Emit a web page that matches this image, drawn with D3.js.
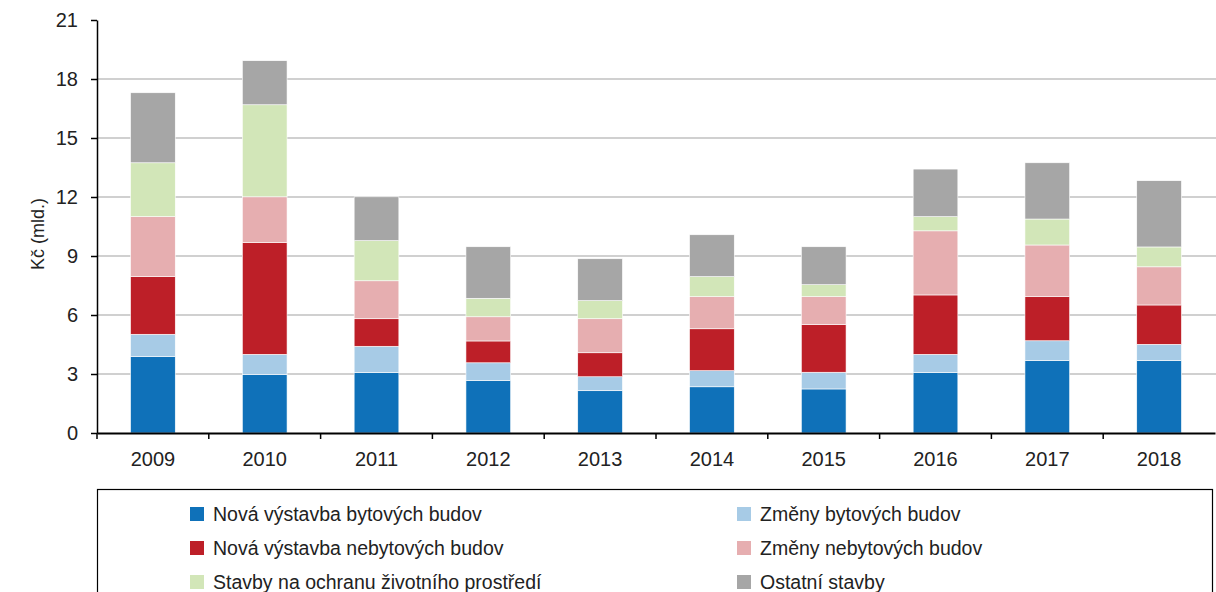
<!DOCTYPE html>
<html>
<head>
<meta charset="utf-8">
<script src="https://cdn.jsdelivr.net/npm/d3@7"></script>
<style>
  body { margin: 0; background: #fff; }
  text { font-family: "Liberation Sans", Arial, sans-serif; }
</style>
</head>
<body>
<script>
// stacked construction values, bn CZK
var years = ["2009","2010","2011","2012","2013","2014","2015","2016","2017","2018"];
var series = ["Nová výstavba bytových budov","Změny bytových budov","Nová výstavba nebytových budov",
              "Změny nebytových budov","Stavby na ochranu životního prostředí","Ostatní stavby"];
var novaByt   = [3.88, 2.98, 3.07, 2.66, 2.15, 2.35, 2.24, 3.07, 3.68, 3.68];
var zmenyByt  = [1.14, 1.02, 1.34, 0.91, 0.71, 0.82, 0.85, 0.93, 1.01, 0.83];
var novaNeb   = [2.93, 5.68, 1.40, 1.11, 1.22, 2.13, 2.42, 3.02, 2.24, 2.00];
var zmenyNeb  = [3.05, 2.33, 1.93, 1.23, 1.73, 1.63, 1.42, 3.26, 2.63, 1.94];
var zivProst  = [2.74, 4.68, 2.04, 0.94, 0.92, 1.02, 0.61, 0.72, 1.32, 1.01];
var ostatni   = [3.56, 2.24, 2.23, 2.62, 2.13, 2.13, 1.93, 2.42, 2.86, 3.37];
var yTicks = [0, 3, 6, 9, 12, 15, 18, 21];
var colors = ["#0f71b9","#a7cbe6","#bd1f28","#e6aeb0","#d2e6b8","#a6a6a6"];

var allVals = [novaByt, zmenyByt, novaNeb, zmenyNeb, zivProst, ostatni];
var data = years.map(function(y, i) {
  var d = {year: y};
  series.forEach(function(s, j) { d[s] = allVals[j][i]; });
  return d;
});

var W = 1216, H = 592;
var margin = {top: 20, right: 0, bottom: 159, left: 97};
var width = W - margin.left - margin.right,
    height = H - margin.top - margin.bottom;

var svg = d3.select("body").append("svg")
    .attr("width", W).attr("height", H);
var g = svg.append("g")
    .attr("transform", "translate(" + margin.left + "," + margin.top + ")");

var x = d3.scaleBand().domain(years).range([0, width - 1]).paddingInner(0.6).paddingOuter(0.3);
var xb = d3.scaleBand().domain(years).range([0, width - 1]);
var y = d3.scaleLinear().domain([0, 21]).range([height, 0]);

// gridlines
g.selectAll(".grid").data(yTicks.slice(1, -1)).enter().append("line")
    .attr("x1", 0).attr("x2", width)
    .attr("y1", function(d) { return y(d); }).attr("y2", function(d) { return y(d); })
    .attr("stroke", "#c0c0c0").attr("stroke-width", 1.5);

var stack = d3.stack().keys(series)(data);

g.selectAll(".layer").data(stack).enter().append("g")
    .attr("fill", function(d, i) { return colors[i]; })
  .selectAll("rect").data(function(d) { return d; }).enter().append("rect")
    .attr("x", function(d) { return x(d.data.year); })
    .attr("width", x.bandwidth())
    .attr("y", function(d) { return y(d[1]); })
    .attr("height", function(d) { return y(d[0]) - y(d[1]); })
    .attr("stroke", "#ffffff").attr("stroke-width", 0.6);

// y axis
var yAxis = g.append("g")
    .call(d3.axisLeft(y).tickValues(yTicks).tickSize(6).tickSizeOuter(0).tickPadding(13));
yAxis.select(".domain").attr("stroke", "#000").attr("stroke-width", 1.5);
yAxis.selectAll(".tick line").attr("stroke", "#000").attr("stroke-width", 1.5);
yAxis.selectAll("text").attr("font-size", "20px").attr("fill", "#222");

// x axis with ticks on category boundaries
var xAxis = g.append("g").attr("transform", "translate(0," + height + ")")
    .call(d3.axisBottom(xb).tickSize(0).tickPadding(19));
xAxis.select(".domain").attr("stroke", "#000").attr("stroke-width", 2);
xAxis.selectAll("text").attr("font-size", "20px").attr("fill", "#222");
xAxis.selectAll(".bound").data(years).enter().append("line")
    .attr("x1", function(d) { return xb(d); }).attr("x2", function(d) { return xb(d); })
    .attr("y1", 0).attr("y2", 6)
    .attr("stroke", "#000").attr("stroke-width", 1.5);

// y label
svg.append("text")
    .attr("transform", "translate(44,234) rotate(-90)")
    .attr("text-anchor", "middle")
    .attr("font-size", "18px").attr("fill", "#222")
    .text("Kč (mld.)");

// legend
var leg = svg.append("g");
leg.append("rect")
    .attr("x", 97.5).attr("y", 489.5).attr("width", 1115).attr("height", 120)
    .attr("fill", "#fff").attr("stroke", "#000").attr("stroke-width", 1.2);
var colX = [190, 737], rowY = [514, 548, 582];
var items = leg.selectAll(".item").data(series).enter().append("g")
    .attr("transform", function(d, i) {
      return "translate(" + colX[i % 2] + "," + rowY[Math.floor(i / 2)] + ")";
    });
items.append("rect").attr("x", 0).attr("y", -7).attr("width", 14).attr("height", 14)
    .attr("fill", function(d, i) { return colors[i]; });
items.append("text").attr("x", 23).attr("y", 0).attr("dy", "0.35em")
    .attr("font-size", "19.5px").attr("fill", "#222")
    .text(function(d) { return d; });
</script>
</body>
</html>
